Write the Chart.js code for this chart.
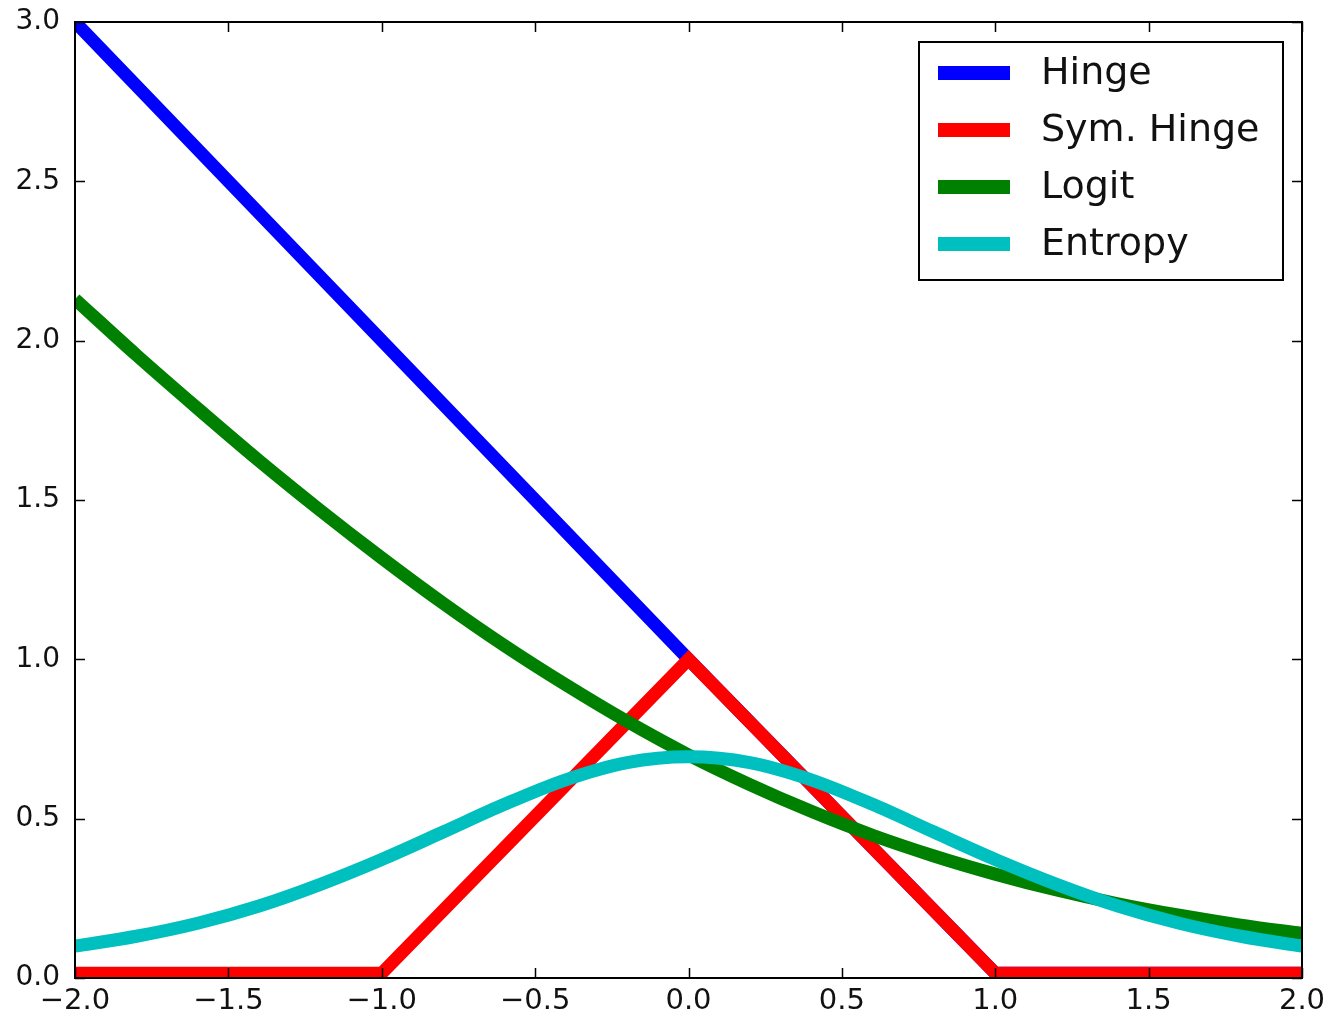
<!DOCTYPE html>
<html>
<head>
<meta charset="utf-8">
<script src="https://cdn.jsdelivr.net/npm/chart.js@4/dist/chart.umd.min.js"></script>
<style>
  body { margin: 0; background: #fff; }
  canvas { display: block; }
</style>
</head>
<body>
<canvas id="lossChart" width="1332" height="1019"></canvas>
<script>
// valeurs
const hingeX = [-2.0, 0.0, 1.0, 2.0];
const hingeY = [3.0, 1.0, 0.015, 0.015];
const symHingeX = [-2.0, -1.0, 0.0, 1.0, 2.0];
const symHingeY = [0.015, 0.015, 1.0, 0.015, 0.015];
// courbes lisses (pas de 0.2)
const curveX = [-2.0, -1.8, -1.6, -1.4, -1.2, -1.0, -0.8, -0.6, -0.4, -0.2, 0.0,
                0.2, 0.4, 0.6, 0.8, 1.0, 1.2, 1.4, 1.6, 1.8, 2.0];
const logit = [2.13, 1.955, 1.787, 1.623, 1.467, 1.318, 1.176, 1.043, 0.920, 0.805, 0.700,
               0.607, 0.523, 0.448, 0.383, 0.326, 0.276, 0.233, 0.197, 0.166, 0.140];
const entropy = [0.100, 0.131, 0.172, 0.226, 0.294, 0.372, 0.458, 0.545, 0.622, 0.676, 0.694,
                 0.676, 0.622, 0.545, 0.458, 0.372, 0.294, 0.226, 0.172, 0.131, 0.100];

const seriesNames = ['Hinge', 'Sym. Hinge', 'Logit', 'Entropy'];
const seriesColors = ['#0000ff', '#ff0000', '#008000', '#00bfbf'];

const FONT = '"DejaVu Sans", sans-serif';

function toPoints(xs, ys) {
    return xs.map((x, i) => ({ x: x, y: ys[i] }));
}

function fmtTick(v) {
    // signe moins typographique comme matplotlib
    return (v < 0 ? '\u2212' : '') + Math.abs(v).toFixed(1);
}

// cadre, graduations intérieures et légende style matplotlib
const matplotlibFrame = {
    id: 'matplotlibFrame',
    afterDatasetsDraw(chart) {
        const ctx = chart.ctx;
        const a = chart.chartArea;
        const sx = chart.scales.x;
        const sy = chart.scales.y;
        ctx.save();
        ctx.strokeStyle = '#000';
        ctx.lineWidth = 1.5;
        ctx.beginPath();
        sx.ticks.forEach(t => {
            const px = Math.round(sx.getPixelForValue(t.value)) + 0.5;
            ctx.moveTo(px, a.bottom); ctx.lineTo(px, a.bottom - 10);
            ctx.moveTo(px, a.top); ctx.lineTo(px, a.top + 10);
        });
        sy.ticks.forEach(t => {
            const py = Math.round(sy.getPixelForValue(t.value)) + 0.5;
            ctx.moveTo(a.left, py); ctx.lineTo(a.left + 10, py);
            ctx.moveTo(a.right, py); ctx.lineTo(a.right - 10, py);
        });
        ctx.stroke();
        ctx.lineWidth = 2;
        ctx.strokeRect(a.left, a.top, a.right - a.left, a.bottom - a.top);

        // légende
        const bx = a.right - 383, by = a.top + 20, bw = 364, bh = 238;
        ctx.fillStyle = '#fff';
        ctx.fillRect(bx, by, bw, bh);
        ctx.lineWidth = 2;
        ctx.strokeRect(bx, by, bw, bh);
        ctx.font = '38px ' + FONT;
        ctx.textBaseline = 'middle';
        ctx.textAlign = 'left';
        chart.data.datasets.forEach((ds, i) => {
            const cy = by + 31 + i * 57;
            ctx.strokeStyle = ds.borderColor;
            ctx.lineWidth = 14;
            ctx.lineCap = 'butt';
            ctx.beginPath();
            ctx.moveTo(bx + 19, cy); ctx.lineTo(bx + 91, cy);
            ctx.stroke();
            ctx.fillStyle = '#111';
            ctx.fillText(ds.label, bx + 122, cy + 1);
        });
        ctx.restore();
    }
};

const seriesData = [
    toPoints(hingeX, hingeY),
    toPoints(symHingeX, symHingeY),
    toPoints(curveX, logit),
    toPoints(curveX, entropy)
];

const datasets = seriesData.map((pts, i) => ({
    label: seriesNames[i],
    data: pts,
    borderColor: seriesColors[i],
    backgroundColor: seriesColors[i],
    borderWidth: 13,
    pointRadius: 0,
    fill: false,
    clip: 0,
    order: 4 - i, // premier dataset dessiné en dessous
    tension: 0,
    cubicInterpolationMode: i >= 2 ? 'monotone' : 'default'
}));

new Chart(document.getElementById('lossChart'), {
    type: 'line',
    data: { datasets: datasets },
    options: {
        responsive: false,
        animation: false,
        layout: { padding: { top: 22, right: 30, left: 0, bottom: 0 } },
        plugins: {
            legend: { display: false },
            tooltip: { enabled: false }
        },
        scales: {
            x: {
                type: 'linear',
                min: -2,
                max: 2,
                grid: { display: false, drawTicks: false },
                border: { display: false },
                ticks: {
                    stepSize: 0.5,
                    padding: 6,
                    maxRotation: 0,
                    autoSkip: false,
                    color: '#111',
                    font: { family: FONT, size: 29 },
                    callback: v => fmtTick(v)
                },
                afterFit: s => { s.height = 41; s.paddingLeft = 0; s.paddingRight = 0; }
            },
            y: {
                type: 'linear',
                min: 0,
                max: 3,
                grid: { display: false, drawTicks: false },
                border: { display: false },
                ticks: {
                    stepSize: 0.5,
                    padding: 15,
                    color: '#111',
                    font: { family: FONT, size: 28 },
                    callback: v => fmtTick(v)
                },
                afterFit: s => { s.width = 75; s.paddingTop = 0; s.paddingBottom = 0; }
            }
        }
    },
    plugins: [matplotlibFrame]
});
</script>
</body>
</html>
